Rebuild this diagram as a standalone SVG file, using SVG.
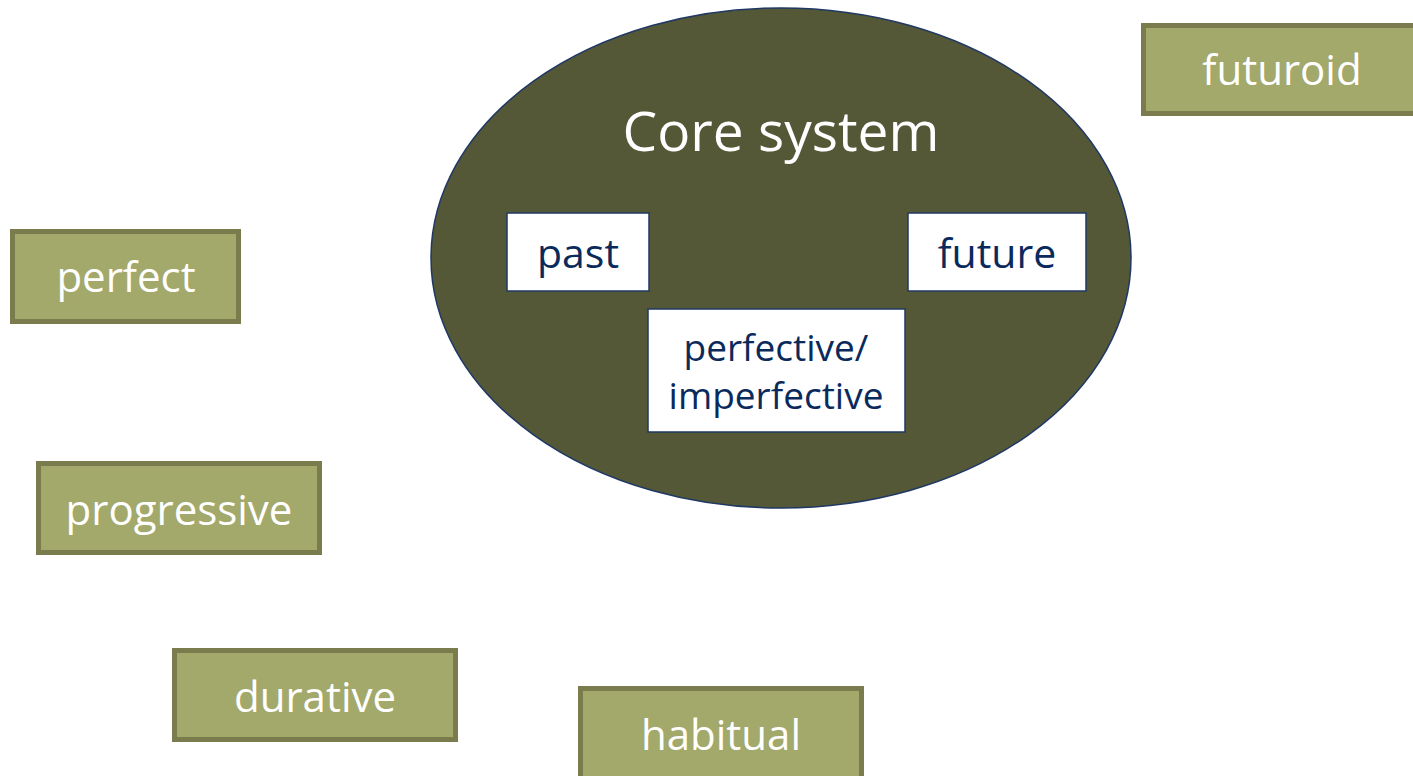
<svg xmlns="http://www.w3.org/2000/svg" width="1413" height="776" viewBox="0 0 1413 776">
<style>
.g rect{fill:#A3A86B;stroke:#7A7C4E;stroke-width:5}
.g text{fill:#fff;font-family:"Open Sans","Liberation Sans",sans-serif;font-size:42px;text-anchor:middle}
.w rect{fill:#fff;stroke:#1F3864;stroke-width:1.5}
.w text{fill:#0B2A5C;font-family:"Open Sans","Liberation Sans",sans-serif;font-size:41px;text-anchor:middle}
.w text.s{font-size:37px}
</style>
<rect width="1413" height="776" fill="#fff"/>
<g id="core">
<ellipse cx="781" cy="258" rx="350" ry="250" fill="#545837" stroke="#1F3864" stroke-width="1.5"/>
<text x="781" y="151" fill="#fff" font-family="Open Sans, Liberation Sans, sans-serif" font-size="55" text-anchor="middle">Core system</text>
</g>
<g id="past" class="w"><rect x="507" y="213" width="142" height="78"/><text x="578" y="268">past</text></g>
<g id="future" class="w"><rect x="908" y="213" width="178" height="78"/><text x="997" y="268">future</text></g>
<g id="perfective" class="w"><rect x="648" y="309" width="257" height="123"/><text class="s" x="776" y="361">perfective/</text><text class="s" x="776" y="409">imperfective</text></g>
<g id="futuroid" class="g"><rect x="1143.5" y="25.5" width="280" height="88"/><text x="1282" y="85">futuroid</text></g>
<g id="perfect" class="g"><rect x="12.5" y="231.5" width="226" height="90"/><text x="126" y="292">perfect</text></g>
<g id="progressive" class="g"><rect x="38.5" y="463.5" width="281" height="89"/><text x="179" y="525">progressive</text></g>
<g id="durative" class="g"><rect x="174.5" y="650.5" width="281" height="89"/><text x="315" y="712">durative</text></g>
<g id="habitual" class="g"><rect x="580.5" y="688.5" width="281" height="100"/><text x="721" y="750">habitual</text></g>
<g id="connectors"></g>
</svg>
